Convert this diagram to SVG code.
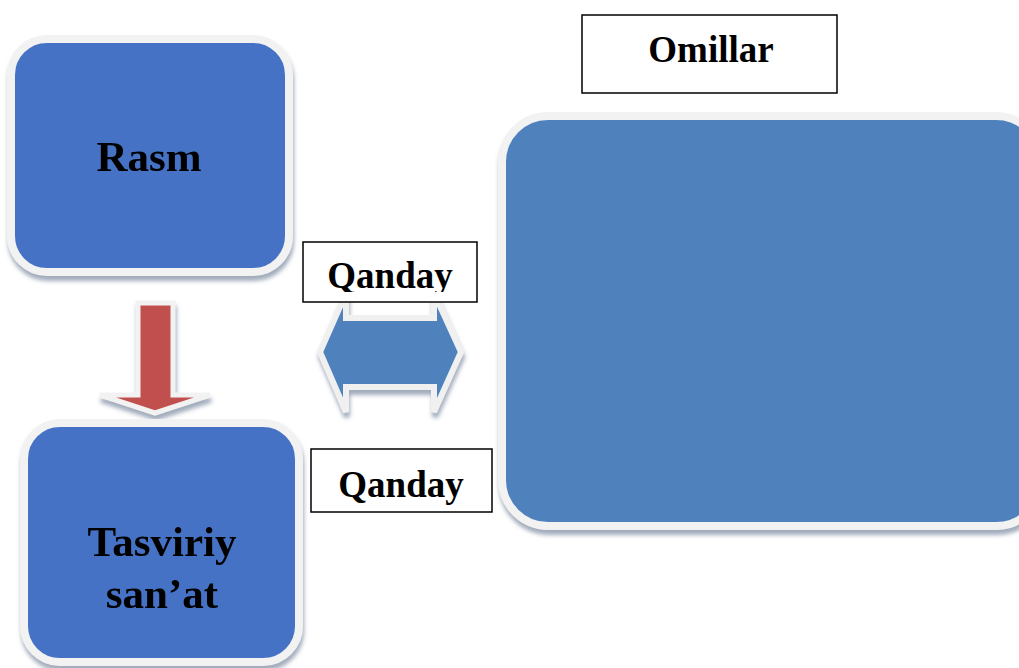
<svg xmlns="http://www.w3.org/2000/svg" width="1019" height="668" viewBox="0 0 1019 668">
<defs>
<filter id="sh" x="-10%" y="-10%" width="120%" height="125%">
<feGaussianBlur in="SourceAlpha" stdDeviation="2"/>
<feOffset dx="1" dy="5" result="b"/>
<feFlood flood-color="#8a97ab" flood-opacity="0.8"/>
<feComposite in2="b" operator="in" result="s"/>
<feMerge><feMergeNode in="s"/><feMergeNode in="SourceGraphic"/></feMerge>
</filter>
<clipPath id="c1"><rect x="303" y="242" width="174" height="50"/></clipPath>
</defs>
<style>
.bx{fill:#4472C4;stroke:#f2f2f2;stroke-width:8}
.big{fill:#4F81BD;stroke:#f2f2f2;stroke-width:8}
.lbl{fill:#fff;stroke:#000;stroke-width:1.5}
.t{font-family:"Liberation Serif",serif;font-weight:bold;fill:#000;text-anchor:middle}
</style>
<g id="connectors">
<g id="down-arrow" filter="url(#sh)">
<polygon points="138,303 173,303 173,395 210,395 155,413 100,395 138,395" fill="#C0504D" stroke="#f2f2f2" stroke-width="5" stroke-linejoin="miter"/>
</g>
<g id="lr-arrow" filter="url(#sh)">
<polygon points="320,352 346,293 346,318 434,318 434,293 461,352 434,412 434,387 346,387 346,412" fill="#4F81BD" stroke="#f0f0f0" stroke-width="6"/>
</g>
</g>
<g id="rasm" filter="url(#sh)">
<rect class="bx" x="11" y="39" width="278" height="233" rx="36"/>
<text class="t" x="149" y="171" font-size="43">Rasm</text>
</g>
<g id="tasviriy" filter="url(#sh)">
<rect class="bx" x="24" y="423" width="275" height="239" rx="36"/>
<text class="t" x="162" y="556" font-size="43">Tasviriy</text>
<text class="t" x="162" y="608" font-size="43">san’at</text>
</g>
<g id="omillar-frame" filter="url(#sh)">
<rect class="big" x="502" y="116" width="540" height="410" rx="46"/>
</g>
<g id="qanday1">
<rect class="lbl" x="303" y="242" width="174" height="60"/>
<text class="t" x="390" y="288" font-size="37" clip-path="url(#c1)">Qanday</text>
</g>
<g id="qanday2">
<rect class="lbl" x="311" y="449" width="181" height="63"/>
<text class="t" x="401" y="497" font-size="37">Qanday</text>
</g>
<g id="omillar">
<rect class="lbl" x="582" y="15" width="255" height="78"/>
<text class="t" x="711" y="62" font-size="37">Omillar</text>
</g>
</svg>
